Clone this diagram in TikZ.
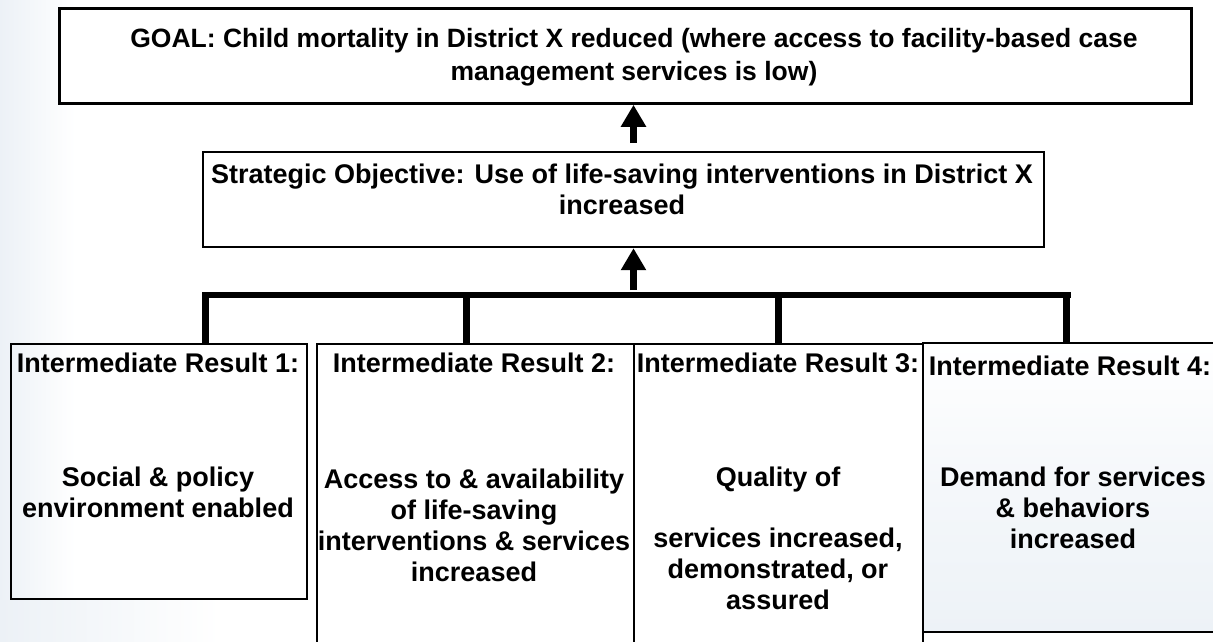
\documentclass[tikz,border=0pt]{standalone}
\usepackage{fontspec}
\setmainfont{Liberation Sans}
\usetikzlibrary{arrows.meta,calc}
\definecolor{bgtint}{RGB}{236,241,246}
\definecolor{boxtint}{RGB}{237,242,247}
\begin{document}
\begin{tikzpicture}[x=1pt,y=-1pt,
  txt/.style={font=\fontsize{27}{31}\selectfont\bfseries, align=center, inner sep=0pt},
  frame/.style={draw=black, line width=2.2pt, inner sep=0pt, anchor=north west},
  uparrow/.style={line width=7pt, -{Triangle[width=24pt,length=22pt]}},
  bar/.style={line width=6.5pt},
  drop/.style={line width=7pt}]
\useasboundingbox (0,0) rectangle (1213,642);
% slide background tint on the left
\shade[left color=bgtint, right color=white, shading angle=90] (0,0) rectangle (75,642);
\shade[left color=bgtint, right color=white] (0,600) rectangle (220,642);

% GOAL
\node[frame, line width=2.8pt, minimum width=1132pt, minimum height=95pt, fill=white] (goal) at (58,7) {};
\node[txt, font=\fontsize{26.5}{33}\selectfont\bfseries] (goalt) at (634,57)
  {GOAL: Child mortality in District X reduced (where access to facility-based case\\
   management services is low)};

% Strategic objective
\node[frame, minimum width=841pt, minimum height=95pt] (so) at (202,151) {};
\node[txt] (sot) at (622,189)
  {Strategic Objective: Use of life-saving interventions in District X\\ increased};

% IR boxes
\node[frame, minimum width=296pt, minimum height=255pt] (ir1) at (10,343) {};
\node[frame, minimum width=317pt, minimum height=310pt] (ir2) at (316,343) {};
\node[frame, minimum width=289pt, minimum height=310pt] (ir3) at (633,343) {};
\node[frame, minimum width=300pt, minimum height=289pt, shading=axis, top color=white, bottom color=boxtint, middle color=boxtint!60!white] (ir4) at (922,342) {};

% IR texts
\node[txt] (ir1t) at (158,363) {Intermediate Result 1:};
\node[txt] (ir1b) at (158,492) {Social \& policy\\ environment enabled};
\node[txt] (ir2t) at (474,363) {Intermediate Result 2:};
\node[txt] (ir2b) at (474,525) {Access to \& availability\\ of life-saving\\ interventions \& services\\ increased};
\node[txt] (ir3t) at (778,363) {Intermediate Result 3:};
\node[txt] (ir3b) at (778,538) {Quality of\\[30pt] services increased,\\ demonstrated, or\\ assured};
\node[txt] (ir4t) at (1070,366) {Intermediate Result 4:};
\node[txt] (ir4b) at (1073,508) {Demand for services\\ \& behaviors\\ increased};

% arrows
\coordinate (ax) at (633.5,0);
\draw[uparrow, shorten <=8pt] (so.north -| ax) -- (goal.south -| ax);
\coordinate (bl) at (202,295);
\coordinate (br) at (1070.5,295);
\draw[uparrow, shorten <=5pt] (bl -| ax) -- (so.south -| ax);

% bar and drops
\draw[bar] (bl) -- (br);
\coordinate (d1) at (205.5,292);
\coordinate (d2) at (466,292);
\coordinate (d3) at (778,292);
\coordinate (d4) at (1066.5,292);
\draw[drop] (d1) -- (ir1.north -| d1);
\draw[drop] (d2) -- (ir2.north -| d2);
\draw[drop] (d3) -- (ir3.north -| d3);
\draw[drop] (d4) -- (ir4.north -| d4);
\end{tikzpicture}
\end{document}
